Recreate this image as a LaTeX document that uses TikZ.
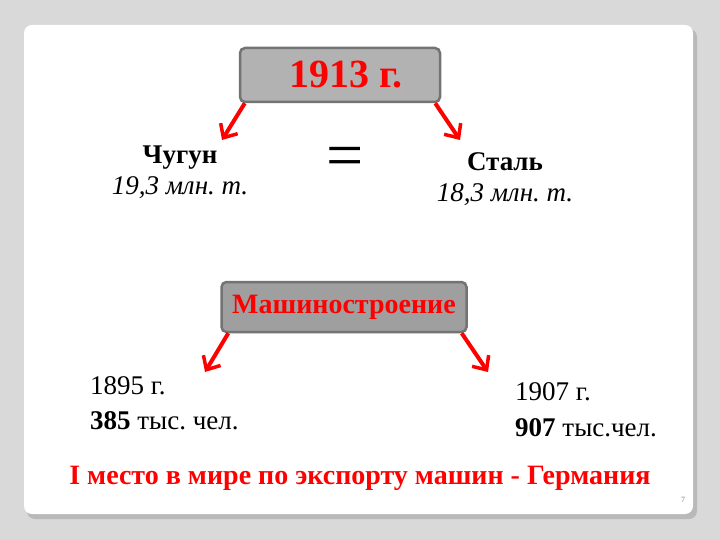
\documentclass[tikz,border=0pt]{standalone}
\usepackage{fontspec}
\usetikzlibrary{arrows.meta}
\setmainfont{Liberation Serif}
\frenchspacing
\begin{document}
\begin{tikzpicture}[x=1pt,y=-1pt,
  hbox/.style={draw=gray!90!black,line width=2.5pt,rounded corners=5pt,minimum height=54pt,text=red,font=\bfseries\fontsize{40}{42}\selectfont},
  rarr/.style={draw=red,line width=4pt,-{Straight Barb[length=11pt,width=20pt,line width=3.5pt]}},
  lbl/.style={font=\fontsize{27}{30}\selectfont,inner sep=0pt}]
\useasboundingbox (0,0) rectangle (720,540);
\fill[gray!30] (0,0) rectangle (720,540);
\fill[gray!55,rounded corners=8pt] (27,29) rectangle (697,519);
\fill[white,rounded corners=8pt] (24,25) rectangle (693,514);
\node[hbox,fill=gray!60,minimum width=200pt] (y) at (340,75) {\hspace*{12pt}1913 г.};
\node[lbl,font=\bfseries\fontsize{27}{30}\selectfont] (c) at (180,158) {Чугун};
\node[lbl,font=\itshape\fontsize{27}{30}\selectfont] (c2) at (180,188) {19,3 млн. т.};
\node[lbl,font=\fontsize{66}{66}\selectfont] (eq) at (345,162) {=};
\node[lbl,font=\bfseries\fontsize{27}{30}\selectfont] (s) at (505,162) {Сталь};
\node[lbl,font=\itshape\fontsize{27}{30}\selectfont] (s2) at (505,195) {18,3 млн. т.};
\coordinate (a1) at (222,140); \coordinate (a2) at (460,140);
\draw[rarr] (y.south west)++(6,0) -- (a1);
\draw[rarr] (y.south east)++(-6,0) -- (a2);
\node[hbox,fill=gray!75,minimum width=245pt,minimum height=50pt,font=\bfseries\fontsize{28}{30}\selectfont] (m) at (344,307) {Машиностроение};
\coordinate (b1) at (205,372); \coordinate (b2) at (488,372);
\draw[rarr] (m.south west)++(8,0) -- (b1);
\draw[rarr] (m.south east)++(-6,0) -- (b2);
\node[lbl,anchor=west] (l1) at (90,386) {1895 г.};
\node[lbl,anchor=west] (l2) at (90,421) {\textbf{385} тыс. чел.};
\node[lbl,anchor=west] (r1) at (515,392) {1907 г.};
\node[lbl,anchor=west] (r2) at (515,428) {\textbf{907} тыс.чел.};
\node[lbl,text=red,font=\bfseries\fontsize{28}{30}\selectfont] (t) at (360,478) {I место в мире по экспорту машин - Германия};
\node[lbl,text=gray,font=\fontsize{8}{9}\selectfont] (p) at (683,500) {7};
\end{tikzpicture}
\end{document}
